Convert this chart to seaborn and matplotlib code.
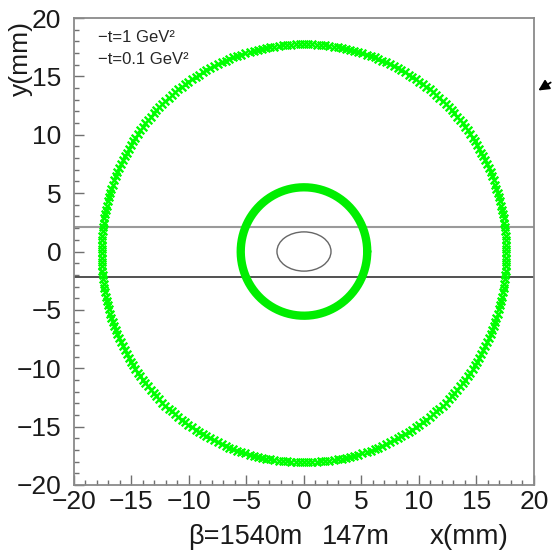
import numpy as np
import matplotlib
matplotlib.use('Agg')
import matplotlib.pyplot as plt
import seaborn as sns
import pandas as pd
from matplotlib.patches import Ellipse

# ring radii (mm)
big_ring_rx = 17.6      # -t = 1 GeV^2
big_ring_ry = 17.9
big_ring_cy = -0.15
small_ring_r = 5.5      # -t = 0.1 GeV^2
beam_ellipse = (0.0, 0.0, 2.35, 1.68)   # cx, cy, half-width, half-height
band_top = 2.1
band_bottom = -2.2
major_ticks = [-20, -15, -10, -5, 0, 5, 10, 15, 20]
legend_labels = ['\u2212t=1 GeV\u00b2', '\u2212t=0.1 GeV\u00b2']
beta_labels = ['\u03b2=1540m', '147m']
n_big = 300
n_small = 400

sns.set_style('ticks')
plt.rcParams['font.family'] = ['Liberation Sans', 'DejaVu Sans']
plt.rcParams['axes.unicode_minus'] = True

# points on the rings
phi_big = np.linspace(0, 2 * np.pi, n_big, endpoint=False)
df_big = pd.DataFrame({'x': big_ring_rx * np.cos(phi_big),
                       'y': big_ring_cy + big_ring_ry * np.sin(phi_big)})
phi_small = np.linspace(0, 2 * np.pi, n_small)
df_small = pd.DataFrame({'x': small_ring_r * np.cos(phi_small),
                         'y': small_ring_r * np.sin(phi_small)})

fig = plt.figure(figsize=(5.53, 5.51), dpi=100)
ax = fig.add_axes([0.1338, 0.1198, 0.8318, 0.8475])

sns.scatterplot(data=df_big, x='x', y='y', marker='x', s=30, color='#00ff00',
                linewidth=1.7, ax=ax, zorder=3)
sns.lineplot(data=df_small, x='x', y='y', sort=False, estimator=None,
             color='#00ee00', lw=6, ax=ax, zorder=3)

cx, cy, ew, eh = beam_ellipse
ax.add_patch(Ellipse((cx, cy), 2 * ew, 2 * eh, fill=False, ec='#666666', lw=1))
ax.axhline(band_top, color='#9a9a9a', lw=1.5, zorder=2)
ax.axhline(band_bottom, color='#333333', lw=1.2, zorder=2)

ax.set_xlim(-20, 20)
ax.set_ylim(-20, 20)
ax.set_xticks(major_ticks)
ax.set_yticks(major_ticks)
ax.set_xticks(np.arange(-20, 21, 1), minor=True)
ax.set_yticks(np.arange(-20, 21, 1), minor=True)
ax.tick_params(which='both', direction='in', color='#707070', width=1,
               top=False, right=False)
ax.tick_params(which='major', length=7, labelsize=19, labelcolor='#1a1a1a')
ax.tick_params(axis='x', which='major', pad=3.5)
ax.tick_params(axis='y', which='major', pad=9)
ax.tick_params(which='minor', length=3.5)
for sp in ax.spines.values():
    sp.set_color('#8a8a8a')
    sp.set_linewidth(1.3)
    sp.set_visible(True)

ax.set_xlabel('')
ax.set_ylabel('')
fig.text(21 / 553, 1 - 58 / 551, 'y(mm)', rotation=90, fontsize=19,
         va='center', ha='center', color='#1a1a1a')

ax.text(0.052, 0.959, legend_labels[0], transform=ax.transAxes, fontsize=12,
        va='center', ha='left')
ax.text(0.052, 0.912, legend_labels[1], transform=ax.transAxes, fontsize=12,
        va='center', ha='left')

ylab = 1 - 537 / 551
fig.text(188 / 553, ylab, beta_labels[0], fontsize=19.5, va='center', ha='left', color='#1a1a1a')
fig.text(322 / 553, ylab, beta_labels[1], fontsize=19.5, va='center', ha='left', color='#1a1a1a')
fig.text(430 / 553, ylab, 'x(mm)', fontsize=20, va='center', ha='left', color='#1a1a1a')

ax.annotate('', xy=(536, 551 - 92), xytext=(553, 551 - 81), xycoords='figure pixels',
            textcoords='figure pixels', annotation_clip=False,
            arrowprops=dict(arrowstyle='-|>', color='black', lw=1.3, mutation_scale=16))

fig.savefig('out.png', dpi=100)
